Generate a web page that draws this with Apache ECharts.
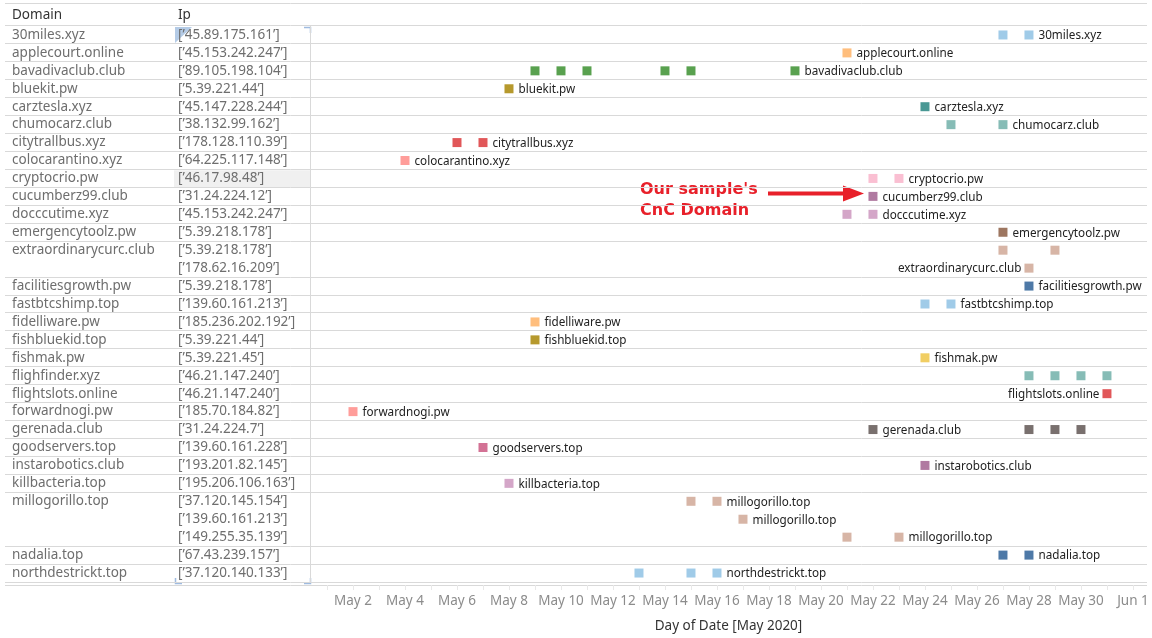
<!DOCTYPE html>
<html><head><meta charset="utf-8">
<script src="https://cdn.jsdelivr.net/npm/echarts@6/dist/echarts.min.js"></script>
<style>html,body{margin:0;padding:0;background:#fff}#c{width:1152px;height:638px}</style>
</head><body><div id="c"></div>
<script>
// ---------- data ----------
const rowDomains = ['30miles.xyz','applecourt.online','bavadivaclub.club','bluekit.pw','carztesla.xyz','chumocarz.club','citytrallbus.xyz','colocarantino.xyz','cryptocrio.pw','cucumberz99.club','docccutime.xyz','emergencytoolz.pw','extraordinarycurc.club','extraordinarycurc.club','facilitiesgrowth.pw','fastbtcshimp.top','fidelliware.pw','fishbluekid.top','fishmak.pw','flighfinder.xyz','flightslots.online','forwardnogi.pw','gerenada.club','goodservers.top','instarobotics.club','killbacteria.top','millogorillo.top','millogorillo.top','millogorillo.top','nadalia.top','northdestrickt.top'];
const rowIps = ['45.89.175.161','45.153.242.247','89.105.198.104','5.39.221.44','45.147.228.244','38.132.99.162','178.128.110.39','64.225.117.148','46.17.98.48','31.24.224.12','45.153.242.247','5.39.218.178','5.39.218.178','178.62.16.209','5.39.218.178','139.60.161.213','185.236.202.192','5.39.221.44','5.39.221.45','46.21.147.240','46.21.147.240','185.70.184.82','31.24.224.7','139.60.161.228','193.201.82.145','195.206.106.163','37.120.145.154','139.60.161.213','149.255.35.139','67.43.239.157','37.120.140.133'];
// day of May 2020 on which each domain/IP pair was seen (32 = Jun 1)
const seenDays = [[27,28],[21],[9,10,11,14,15,19],[8],[24],[25,27],[6,7],[4],[22,23],[22],[21,22],[27],[27,29],[28],[28],[24,25],[9],[9],[24],[28,29,30,31],[31],[2],[22,28,29,30],[7],[24],[8],[15,16],[17],[21,23],[27,28],[13,15,16]];
// mark that carries the domain label in each row (null = no label)
const labelDays = [28,21,19,8,24,27,7,4,23,22,22,27,null,28,28,25,9,9,24,null,31,2,22,7,24,8,16,17,23,28,16];
const leftLabelRows = [13,20];
const tickDays = [2,4,6,8,10,12,14,16,18,20,22,24,26,28,30,32];
const minorTickDays = Array.from({length:32},(_, i)=>i+1);
const highlightRow = 8;
const axisTitle = 'Day of Date [May 2020]';

// ---------- styles ----------
const domainColors = {
'30miles.xyz':'#A0CBE8','applecourt.online':'#FFBE7D','bavadivaclub.club':'#59A14F','bluekit.pw':'#B6992D','carztesla.xyz':'#499894','chumocarz.club':'#86BCB6','citytrallbus.xyz':'#E15759','colocarantino.xyz':'#FF9D9A','cryptocrio.pw':'#FABFD2','cucumberz99.club':'#B07AA1','docccutime.xyz':'#D4A6C8','emergencytoolz.pw':'#9D7660','extraordinarycurc.club':'#D7B5A6','facilitiesgrowth.pw':'#4E79A7','fastbtcshimp.top':'#A0CBE8','fidelliware.pw':'#FFBE7D','fishbluekid.top':'#B6992D','fishmak.pw':'#F1CE63','flighfinder.xyz':'#86BCB6','flightslots.online':'#E15759','forwardnogi.pw':'#FF9D9A','gerenada.club':'#79706E','goodservers.top':'#D37295','instarobotics.club':'#B07AA1','killbacteria.top':'#D4A6C8','millogorillo.top':'#D7B5A6','nadalia.top':'#4E79A7','northdestrickt.top':'#A0CBE8'};
const FONT = '"Noto Sans", sans-serif';
const LINE = '#d9d9d9';

const n = rowDomains.length;
const keys = rowDomains.map((_, i) => String(i));
const firstOfGroup = rowDomains.map((d, i) => i === 0 || rowDomains[i-1] !== d);

const boundaryData = [];
firstOfGroup.forEach((f, i) => { if (f) boundaryData.push([0, i, 0]); });
boundaryData.push([0, n-1, 1]);

const points = [];
seenDays.forEach((days, r) => {
  days.forEach(d => {
    const lab = labelDays[r] === d;
    const left = leftLabelRows.includes(r);
    points.push({
      value: [d, r],
      itemStyle: {color: domainColors[rowDomains[r]], opacity: 1},
      label: {show: lab, position: left ? 'left' : 'right', distance: left ? 3 : 5}
    });
  });
});

const dayName = v => { const dt = new Date(2020, 4, v); return (dt.getMonth() === 4 ? 'May ' : 'Jun ') + dt.getDate(); };

const chart = echarts.init(document.getElementById('c'), null, {renderer: 'canvas'});
chart.setOption({
  animation: false,
  backgroundColor: '#fff',
  textStyle: {fontFamily: FONT},
  grid: [
    {left: 5, right: 5, top: 26, height: 557},
    {left: 310, right: 5, top: 26, height: 557}
  ],
  xAxis: [
    {gridIndex: 0, type: 'value', min: 0, max: 1, show: false},
    {gridIndex: 1, type: 'value', min: 0.346, max: 32.54, offset: 3,
      axisLine: {show: false},
      axisTick: {show: true, customValues: minorTickDays, length: 5, lineStyle: {color: '#e8e8e8'}},
      splitLine: {show: false},
      axisLabel: {customValues: tickDays, margin: 9, color: '#8c8c8c', fontSize: 13.5, fontFamily: FONT,
        formatter: v => dayName(v)},
      name: axisTitle, nameLocation: 'middle', nameGap: 34,
      nameTextStyle: {color: '#333', fontSize: 13.5, fontFamily: FONT}
    }
  ],
  yAxis: [
    {gridIndex: 0, type: 'category', inverse: true, data: keys, show: false},
    {gridIndex: 1, type: 'category', inverse: true, data: keys,
      axisLine: {show: true, lineStyle: {color: LINE}}, axisTick: {show: false}, splitLine: {show: false},
      axisLabel: {interval: 0, align: 'left', margin: 298, color: '#6e6e6e', fontSize: 13.5, fontFamily: FONT,
        formatter: (v, i) => firstOfGroup[i] ? rowDomains[i] : ''}},
    {gridIndex: 1, type: 'category', inverse: true, position: 'left', data: keys,
      axisLine: {show: false}, axisTick: {show: false}, splitLine: {show: false},
      axisLabel: {interval: 0, align: 'left', margin: 132, color: '#6e6e6e', fontSize: 13.5, fontFamily: FONT,
        formatter: (v, i) => '[\u2019' + rowIps[i] + '\u2019]'}}
  ],
  series: [
    {type: 'custom', xAxisIndex: 0, yAxisIndex: 0, z: 0, silent: true, clip: false,
      data: [[0, highlightRow]],
      renderItem: (params, api) => {
        const cs = params.coordSys; const bh = cs.height / n;
        const c = api.coord([0, api.value(1)]);
        return {type: 'rect', shape: {x: 174, y: c[1] - bh/2 + 0.5, width: 310 - 174, height: bh - 1}, style: {fill: '#f0f0f0'}};
      }},
    {type: 'custom', xAxisIndex: 0, yAxisIndex: 0, z: 1, silent: true, clip: false,
      data: boundaryData,
      renderItem: (params, api) => {
        const cs = params.coordSys; const bh = cs.height / n;
        const c = api.coord([0, api.value(1)]);
        const y = Math.round(api.value(2) ? c[1] + bh/2 : c[1] - bh/2) - 0.5;
        return {type: 'line', shape: {x1: cs.x, y1: y, x2: cs.x + cs.width, y2: y}, style: {stroke: LINE, lineWidth: 1}};
      }},
    {type: 'scatter', xAxisIndex: 1, yAxisIndex: 1, z: 3, symbol: 'rect', symbolSize: 9, silent: true,
      itemStyle: {opacity: 1},
      data: points,
      label: {formatter: p => rowDomains[p.value[1]], color: '#222', fontSize: 11.7, fontFamily: FONT, offset: [0, 1]}}
  ],
  graphic: [
    {type: 'line', shape: {x1: 5, y1: 3.5, x2: 1147, y2: 3.5}, style: {stroke: LINE, lineWidth: 1}, silent: true},
    {type: 'line', shape: {x1: 5, y1: 585.5, x2: 1147, y2: 585.5}, style: {stroke: LINE, lineWidth: 1}, silent: true},
    {type: 'text', left: 12, top: 8, style: {text: 'Domain', fill: '#333', font: '13.5px "Noto Sans"'}, silent: true},
    {type: 'text', left: 178, top: 8, style: {text: 'Ip', fill: '#333', font: '13.5px "Noto Sans"'}, silent: true},
    {type: 'polygon', shape: {points: [[175,27],[192,27],[175,43]]}, style: {fill: '#b4cbe6'}, silent: true},
    {type: 'polyline', shape: {points: [[304,27.5],[310.5,27.5],[310.5,33]]}, style: {stroke: '#9fbbe0', lineWidth: 1.5, fill: null}, silent: true},
    {type: 'polyline', shape: {points: [[175.5,578],[175.5,583.5],[182,583.5]]}, style: {stroke: '#9fbbe0', lineWidth: 1.5, fill: null}, silent: true},
    {type: 'polyline', shape: {points: [[304,583.5],[310.5,583.5],[310.5,578]]}, style: {stroke: '#9fbbe0', lineWidth: 1.5, fill: null}, silent: true},
    {type: 'text', left: 640, top: 179, style: {text: "Our sample's\nCnC Domain", fill: '#e8202a', font: 'bold 16px "DejaVu Sans"', lineHeight: 21}, silent: true},
    {type: 'line', shape: {x1: 768, y1: 193.5, x2: 846, y2: 193.5}, style: {stroke: '#e8202a', lineWidth: 4}, silent: true},
    {type: 'polygon', shape: {points: [[843,185.5],[864,193.5],[843,201.5]]}, style: {fill: '#e8202a'}, silent: true}
  ]
});
</script>
</body></html>
